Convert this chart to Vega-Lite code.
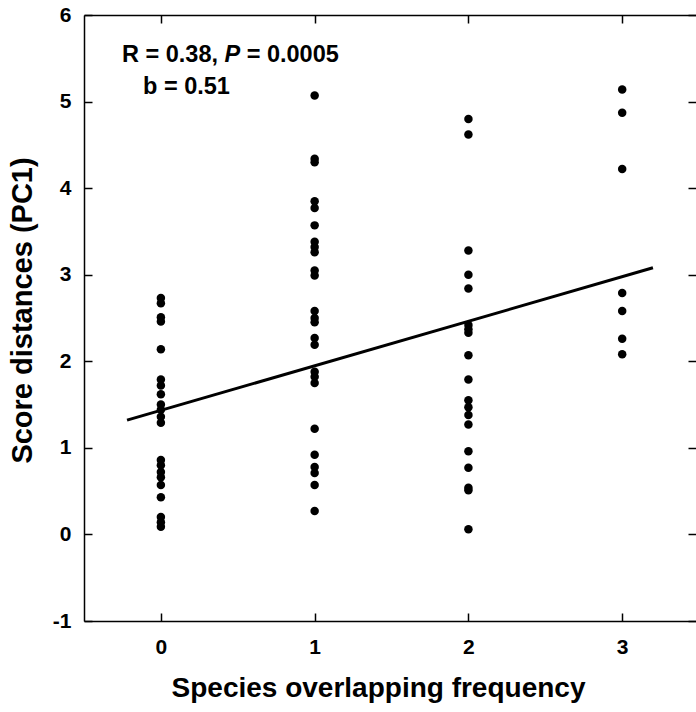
{
  "$schema": "https://vega.github.io/schema/vega-lite/v6.json",
  "width": 612,
  "height": 606,
  "autosize": "none",
  "padding": {"left": 84, "top": 15, "right": 0, "bottom": 91},
  "background": "white",
  "config": {"view": {"stroke": null}, "font": "Liberation Sans"},
  "datasets": {
    "points": [
      {"overlap": 0, "distance": 2.73}, {"overlap": 0, "distance": 2.67}, {"overlap": 0, "distance": 2.51}, {"overlap": 0, "distance": 2.46},
      {"overlap": 0, "distance": 2.14}, {"overlap": 0, "distance": 1.79}, {"overlap": 0, "distance": 1.72}, {"overlap": 0, "distance": 1.62},
      {"overlap": 0, "distance": 1.50}, {"overlap": 0, "distance": 1.44}, {"overlap": 0, "distance": 1.36}, {"overlap": 0, "distance": 1.29},
      {"overlap": 0, "distance": 0.86}, {"overlap": 0, "distance": 0.80}, {"overlap": 0, "distance": 0.72}, {"overlap": 0, "distance": 0.66},
      {"overlap": 0, "distance": 0.57}, {"overlap": 0, "distance": 0.43}, {"overlap": 0, "distance": 0.20}, {"overlap": 0, "distance": 0.14},
      {"overlap": 0, "distance": 0.09},
      {"overlap": 1, "distance": 5.07}, {"overlap": 1, "distance": 4.34}, {"overlap": 1, "distance": 4.30}, {"overlap": 1, "distance": 3.85},
      {"overlap": 1, "distance": 3.77}, {"overlap": 1, "distance": 3.57}, {"overlap": 1, "distance": 3.38}, {"overlap": 1, "distance": 3.32},
      {"overlap": 1, "distance": 3.26}, {"overlap": 1, "distance": 3.05}, {"overlap": 1, "distance": 2.99}, {"overlap": 1, "distance": 2.58},
      {"overlap": 1, "distance": 2.50}, {"overlap": 1, "distance": 2.45}, {"overlap": 1, "distance": 2.27}, {"overlap": 1, "distance": 2.19},
      {"overlap": 1, "distance": 1.88}, {"overlap": 1, "distance": 1.82}, {"overlap": 1, "distance": 1.75}, {"overlap": 1, "distance": 1.22},
      {"overlap": 1, "distance": 0.92}, {"overlap": 1, "distance": 0.78}, {"overlap": 1, "distance": 0.71}, {"overlap": 1, "distance": 0.57},
      {"overlap": 1, "distance": 0.27},
      {"overlap": 2, "distance": 4.80}, {"overlap": 2, "distance": 4.62}, {"overlap": 2, "distance": 3.28}, {"overlap": 2, "distance": 3.00},
      {"overlap": 2, "distance": 2.84}, {"overlap": 2, "distance": 2.42}, {"overlap": 2, "distance": 2.37}, {"overlap": 2, "distance": 2.33},
      {"overlap": 2, "distance": 2.07}, {"overlap": 2, "distance": 1.79}, {"overlap": 2, "distance": 1.55}, {"overlap": 2, "distance": 1.47},
      {"overlap": 2, "distance": 1.38}, {"overlap": 2, "distance": 1.27}, {"overlap": 2, "distance": 0.96}, {"overlap": 2, "distance": 0.77},
      {"overlap": 2, "distance": 0.54}, {"overlap": 2, "distance": 0.51}, {"overlap": 2, "distance": 0.06},
      {"overlap": 3, "distance": 5.14}, {"overlap": 3, "distance": 4.87}, {"overlap": 3, "distance": 4.22}, {"overlap": 3, "distance": 2.79},
      {"overlap": 3, "distance": 2.58}, {"overlap": 3, "distance": 2.26}, {"overlap": 3, "distance": 2.08}
    ],
    "fit": [
      {"overlap": -0.22, "distance": 1.32},
      {"overlap": 3.2, "distance": 3.08}
    ]
  },
  "layer": [
    {
      "data": {"name": "points"},
      "mark": {"type": "circle", "size": 72, "color": "black", "opacity": 1},
      "encoding": {
        "x": {
          "field": "overlap", "type": "quantitative",
          "scale": {"domain": [-0.5, 3.48], "nice": false, "zero": false},
          "axis": {
            "orient": "bottom", "values": [0, 1, 2, 3], "grid": false,
            "title": "Species overlapping frequency", "titleX": 294,
            "titleFontSize": 28, "titleFontWeight": "bold", "titleColor": "black", "titlePadding": 17,
            "labelFontSize": 21, "labelFontWeight": "bold", "labelColor": "black", "labelPadding": 23,
            "domainColor": "black", "domainWidth": 1.5, "tickColor": "black", "tickWidth": 1.5, "tickSize": -8
          }
        },
        "y": {
          "field": "distance", "type": "quantitative",
          "scale": {"domain": [-1, 6], "nice": false, "zero": false},
          "axis": {
            "orient": "left", "values": [-1, 0, 1, 2, 3, 4, 5, 6], "grid": false,
            "labelExpr": "replace(datum.label, '\u2212', '-')",
            "title": "Score distances (PC1)", "titleY": 295,
            "titleFontSize": 29, "titleFontWeight": "bold", "titleColor": "black", "titlePadding": 15,
            "labelFontSize": 21, "labelFontWeight": "bold", "labelColor": "black", "labelPadding": 21,
            "domainColor": "black", "domainWidth": 1.5, "tickColor": "black", "tickWidth": 1.5, "tickSize": -8
          }
        }
      }
    },
    {
      "data": {"name": "fit"},
      "mark": {"type": "line", "color": "black", "strokeWidth": 3},
      "encoding": {
        "x": {
          "field": "overlap", "type": "quantitative",
          "axis": {
            "orient": "top", "values": [0, 1, 2, 3], "grid": false, "title": null, "labels": false,
            "domainColor": "black", "domainWidth": 1.5, "tickColor": "black", "tickWidth": 1.5, "tickSize": -8
          }
        },
        "y": {
          "field": "distance", "type": "quantitative",
          "axis": {
            "orient": "right", "values": [-1, 0, 1, 2, 3, 4, 5, 6], "grid": false, "title": null, "labels": false,
            "domain": false, "tickColor": "black", "tickWidth": 1.5, "tickSize": -8
          }
        }
      }
    },
    {
      "data": {"values": [{}]},
      "mark": {"type": "text", "align": "left", "baseline": "middle", "fontSize": 23.5, "fontWeight": "bold", "color": "black", "font": "Liberation Sans"},
      "encoding": {
        "x": {"datum": -0.253, "type": "quantitative", "axis": null},
        "y": {"datum": 5.54, "type": "quantitative", "axis": null},
        "text": {"value": "R = 0.38,"}
      }
    },
    {
      "data": {"values": [{}]},
      "mark": {"type": "text", "align": "left", "baseline": "middle", "fontSize": 23.5, "fontWeight": "bold", "fontStyle": "italic", "color": "black", "font": "Liberation Sans", "dx": 102.5},
      "encoding": {
        "x": {"datum": -0.253, "type": "quantitative", "axis": null},
        "y": {"datum": 5.54, "type": "quantitative", "axis": null},
        "text": {"value": "P"}
      }
    },
    {
      "data": {"values": [{}]},
      "mark": {"type": "text", "align": "left", "baseline": "middle", "fontSize": 23.5, "fontWeight": "bold", "color": "black", "font": "Liberation Sans", "dx": 124.7},
      "encoding": {
        "x": {"datum": -0.253, "type": "quantitative", "axis": null},
        "y": {"datum": 5.54, "type": "quantitative", "axis": null},
        "text": {"value": "= 0.0005"}
      }
    },
    {
      "data": {"values": [{}]},
      "mark": {"type": "text", "align": "left", "baseline": "middle", "fontSize": 23.5, "fontWeight": "bold", "color": "black", "font": "Liberation Sans"},
      "encoding": {
        "x": {"datum": -0.116, "type": "quantitative", "axis": null},
        "y": {"datum": 5.17, "type": "quantitative", "axis": null},
        "text": {"value": "b = 0.51"}
      }
    }
  ],
  "resolve": {"axis": {"x": "independent", "y": "independent"}}
}
